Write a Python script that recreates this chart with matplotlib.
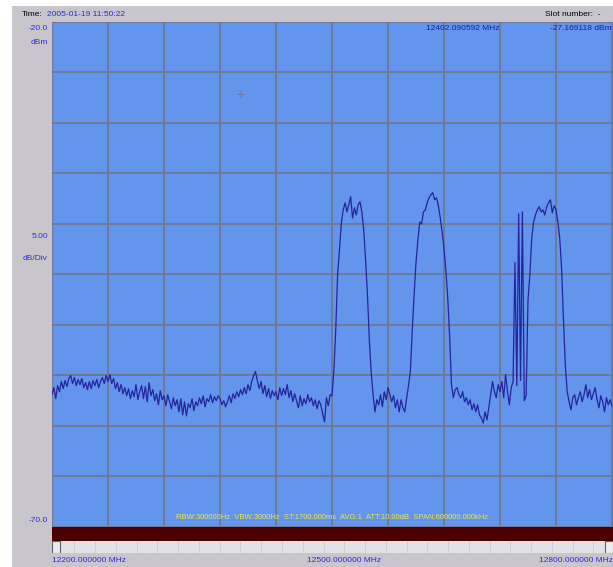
import numpy as np
import matplotlib.pyplot as plt
from matplotlib.patches import Rectangle

# spectrum trace: one level every 2 MHz from 12200 MHz
f_start = 12200.0
f_step = 2.0
levels = [
    -56.9, -56.2, -57.3, -56.0, -56.6, -55.6, -56.3, -55.5, -56.1, -55.3,
    -55.0, -55.8, -55.2, -56.0, -55.4, -55.9, -55.3, -56.2, -55.7, -56.4,
    -55.6, -56.3, -55.5, -56.0, -55.4, -56.2, -55.6, -55.2, -55.8, -55.0,
    -55.6, -54.9, -55.8, -55.3, -56.3, -55.7, -56.6, -55.9, -56.8, -56.2,
    -57.0, -56.3, -57.3, -56.5, -57.1, -55.9, -57.4, -56.6, -56.0, -57.3,
    -56.1, -57.6, -55.7, -57.0, -56.4, -57.5, -56.8, -57.9, -56.5, -57.4,
    -57.0, -58.0, -56.9, -57.6, -58.3, -57.2, -58.0, -57.4, -58.6, -57.3,
    -58.9, -57.6, -59.0, -57.8, -58.2, -57.3, -58.5, -57.6, -58.0, -57.2,
    -57.8, -57.0, -58.1, -57.3, -57.6, -56.9, -57.7, -57.1, -57.5, -57.0,
    -57.3, -57.9, -57.5, -58.1, -57.6, -57.0, -57.7, -56.8, -57.3, -56.6,
    -57.1, -56.4, -56.9, -56.2, -56.8, -55.9, -56.5, -55.6, -55.0, -54.6,
    -55.5, -56.3, -55.6, -56.8, -56.0, -57.1, -56.3, -57.3, -56.5, -57.0,
    -56.6, -57.4, -56.2, -57.0, -56.3, -56.9, -55.9, -57.2, -56.5, -57.6,
    -56.8, -57.5, -58.2, -57.0, -58.0, -57.3, -57.8, -56.9, -57.6, -57.2,
    -58.0, -57.4, -58.3, -57.5, -57.9, -58.8, -59.6, -57.2, -58.0, -56.9,
    -57.0, -54.5, -50.5, -45.0, -42.6, -39.9, -38.6, -37.9, -38.8, -38.1,
    -37.3, -39.4, -38.4, -39.1, -38.1, -37.8, -38.8, -40.6, -43.6, -47.0,
    -51.5, -54.7, -56.9, -58.6, -57.4, -57.9, -56.9, -58.1, -56.6, -57.4,
    -56.2, -56.9, -57.6, -57.0, -58.2, -57.4, -58.6, -57.4, -58.2, -58.6,
    -57.2, -56.0, -54.5, -50.5, -47.0, -43.8, -41.6, -39.8, -40.0, -38.8,
    -38.6, -37.9, -37.4, -37.1, -36.9, -37.6, -37.4, -38.2, -39.4, -40.8,
    -42.4, -44.6, -47.3, -51.0, -55.9, -57.2, -56.4, -56.2, -56.9, -57.2,
    -56.6, -57.6, -57.2, -57.9, -57.4, -58.4, -57.8, -58.6, -57.9, -58.9,
    -59.2, -59.7, -58.6, -59.4, -58.2, -56.9, -55.6, -56.6, -57.2, -55.9,
    -56.6, -55.6, -57.2, -54.9, -56.6, -57.9, -56.2, -55.6, -43.8, -56.0,
    -39.0, -55.5, -38.8, -57.5, -57.0, -47.5, -45.0, -41.4, -39.8, -39.1,
    -38.6, -38.3, -38.8, -38.6, -39.1, -38.3, -37.9, -37.6, -38.9, -38.2,
    -38.6, -39.8, -41.4, -44.4, -49.5, -54.0, -56.6, -57.6, -58.4, -57.2,
    -56.9, -57.9, -57.2, -56.6, -57.6, -56.9, -55.9, -57.2, -56.4, -57.4,
    -56.8, -56.2, -57.4, -58.2, -57.0, -57.6, -58.6, -57.2, -57.9, -57.4,
    -58.0,
]

ref_level = -20.0
bottom_level = -70.0
db_div = 5.0
span_start = 12200.0
span_stop = 12800.0
marker_freq = "12402.090592 MHz"
marker_level = "-27.169118 dBm"
timestamp = "2005-01-19 11:50:22"
settings = "RBW:300000Hz  VBW:3000Hz  ST:1700.000ms  AVG:1  ATT:10.00dB  SPAN:600000.000kHz"

W, H = 613, 567
fig = plt.figure(figsize=(W / 100, H / 100), dpi=100)
fig.patch.set_facecolor("white")

def fx(px):
    return px / W

def fy(py):
    return 1 - py / H

font = ["Liberation Sans", "DejaVu Sans"]
fs = 6
blue_txt = "#2b2bd6"

# grey window panel (background axes)
bg = fig.add_axes([0, 0, 1, 1], zorder=-5)
bg.set_xlim(0, 1); bg.set_ylim(0, 1)
bg.axis("off")
bg.add_patch(Rectangle((fx(12), 0), 1 - fx(12), fy(6), facecolor="#c8c6cc", edgecolor="none"))

# main trace area
ax = fig.add_axes([fx(52), fy(527), 1 - fx(52), fy(22) - fy(527)])
ax.set_facecolor("#6495ed")
freqs = f_start + f_step * np.arange(len(levels))
ax.plot(freqs, levels, color="#24249e", lw=0.9, zorder=3)
ax.set_xlim(span_start, span_stop + (span_stop - span_start) / 560)
ax.set_ylim(bottom_level, ref_level)
ax.set_xticks(np.arange(span_start, span_stop + 1, 60))
ax.set_yticks(np.arange(bottom_level, ref_level + 1, db_div))
ax.set_axisbelow(True)
ax.grid(color="#6f7891", lw=1.3)
ax.tick_params(length=0, labelbottom=False, labelleft=False)
for s in ax.spines.values():
    s.set_visible(False)

# small cursor cross
ax.text(12402, -27.2, "+", color="#6d7494", fontsize=10, ha="center", va="center", family=font)

ax.text(0.5, 0.012, settings, transform=ax.transAxes, color="#e6e64a", fontsize=5.5,
        ha="center", va="bottom", family=font)
ax.text((500 - 52) / (613 - 52), 0.995, marker_freq, transform=ax.transAxes,
        color="#1c1c9c", fontsize=fs, ha="right", va="top", family=font)
ax.text(0.998, 0.995, marker_level, transform=ax.transAxes,
        color="#1c1c9c", fontsize=fs, ha="right", va="top", family=font)

# dark red status bar
bar = fig.add_axes([fx(52), fy(541), 1 - fx(52), fy(527) - fy(541)])
bar.set_facecolor("#4a0000")
bar.set_xticks([]); bar.set_yticks([])
for s in bar.spines.values():
    s.set_visible(False)

# scroll bar
sb = fig.add_axes([fx(52), fy(553), 1 - fx(52), fy(541) - fy(553)])
sb.set_facecolor("#e2e1e6")
sb.set_xlim(0, 1); sb.set_ylim(0, 1)
sb.set_xticks(np.arange(0.04, 1, 0.037))
sb.set_yticks([])
sb.grid(axis="x", color="#a0a0a8", lw=0.6, ls=(0, (1, 2)))
sb.tick_params(length=0, labelbottom=False)
for s in sb.spines.values():
    s.set_visible(False)
sb.add_patch(Rectangle((0, 0), 0.015, 1, facecolor="#ecebef", edgecolor="#606068", lw=0.8))
sb.add_patch(Rectangle((0.985, 0), 0.015, 1, facecolor="#ecebef", edgecolor="#606068", lw=0.8))

# header
fig.text(fx(22), fy(14), "Time:", color="black", fontsize=fs, va="center", family=font)
fig.text(fx(47), fy(14), timestamp, color=blue_txt, fontsize=fs, va="center", family=font)
fig.text(fx(545), fy(14), "Slot number:  -", color="black", fontsize=fs, va="center", family=font)

# left scale labels
fig.text(fx(48), fy(28), f"{ref_level:.1f}", color=blue_txt, fontsize=fs, ha="right", va="center", family=font)
fig.text(fx(48), fy(42), "dBm", color=blue_txt, fontsize=fs, ha="right", va="center", family=font)
fig.text(fx(48), fy(236), f"{db_div:.2f}", color=blue_txt, fontsize=fs, ha="right", va="center", family=font)
fig.text(fx(48), fy(259), "dB/Div", color=blue_txt, fontsize=fs, ha="right", va="center", family=font)
fig.text(fx(48), fy(520), f"{bottom_level:.1f}", color=blue_txt, fontsize=fs, ha="right", va="center", family=font)

# frequency labels
fig.text(fx(52), fy(561), f"{span_start:.6f} MHz", color=blue_txt, fontsize=fs, ha="left", va="center", family=font)
fig.text(fx(344), fy(561), f"{(span_start + span_stop) / 2:.6f} MHz", color=blue_txt, fontsize=fs,
         ha="center", va="center", family=font)
fig.text(fx(613), fy(561), f"{span_stop:.6f} MHz", color=blue_txt, fontsize=fs, ha="right", va="center", family=font)

fig.savefig("out.png", dpi=100)
